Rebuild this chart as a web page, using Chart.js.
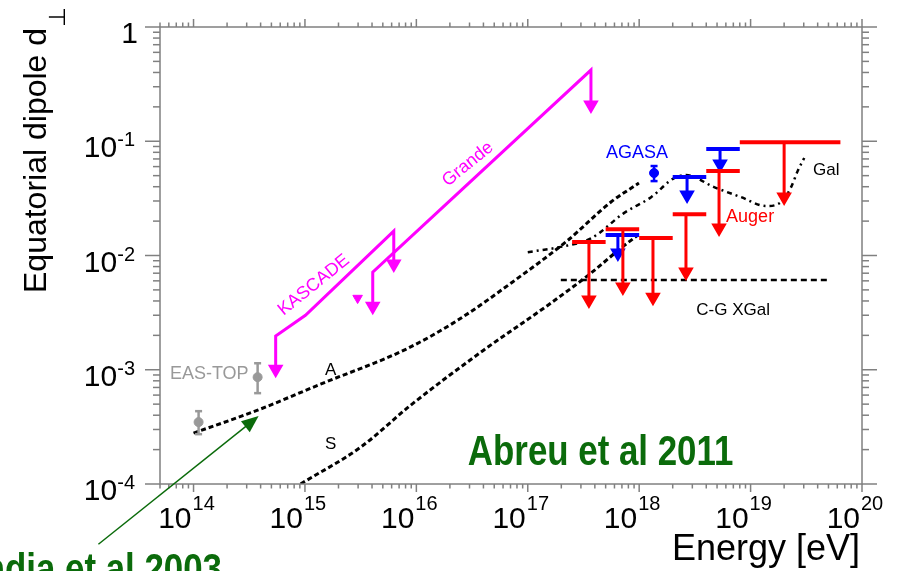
<!DOCTYPE html>
<html>
<head>
<meta charset="utf-8">
<script src="https://cdn.jsdelivr.net/npm/chart.js@4.4.1/dist/chart.umd.min.js"></script>
<style>
  html, body { margin: 0; padding: 0; background: #fff; }
  canvas { display: block; }
</style>
</head>
<body>
<canvas id="dipoleChart" width="902" height="571"></canvas>
<script>
// axis ranges and tick labels (powers of ten)
const xMin = 5e13, xMax = 1e20;
const yMin = 1e-4, yMax = 1;
const xTickExponents = [14, 15, 16, 17, 18, 19, 20];
const yTickExponents = [0, -1, -2, -3, -4];

// model curves: energy [eV] and equatorial dipole amplitude
const curveAEnergy = [1.0e14, 3.76e14, 1.38e15, 8.04e15, 2.36e16, 8.15e16, 2.29e17, 5.58e17, 9.95e17];
const curveADipole = [2.79e-4, 4.43e-4, 7.48e-4, 1.51e-3, 2.72e-3, 6.34e-3, 1.36e-2, 2.94e-2, 4.31e-2];

const curveSEnergy = [9.14e14, 3.16e15, 8.91e15, 4.04e16, 1.61e17, 3.69e17, 6.85e17, 9.75e17];
const curveSDipole = [1.0e-4, 2.10e-4, 4.90e-4, 1.49e-3, 3.83e-3, 7.01e-3, 1.16e-2, 1.51e-2];

const galEnergy = [1.0e17, 1.98e17, 3.69e17, 7.29e17, 1.28e18, 2.06e18, 2.63e18, 4.70e18, 8.22e18, 1.38e19, 1.88e19, 2.31e19, 2.67e19, 3.03e19];
const galDipole = [1.07e-2, 1.19e-2, 1.41e-2, 2.35e-2, 3.24e-2, 4.76e-2, 5.06e-2, 3.97e-2, 3.24e-2, 2.71e-2, 2.94e-2, 3.97e-2, 5.60e-2, 7.13e-2];

const xgalEnergy = [1.98e17, 5.18e19];
const xgalDipole = [6.1e-3, 6.1e-3];

// Auger upper limits: bin edges, arrow position, limit, arrow head
const augerEmin = [2.5e17, 5e17, 1e18, 2e18, 4e18, 8e18];
const augerEmax = [5e17, 1e18, 2e18, 4e18, 8e18, 6.4e19];
const augerEarrow = [3.54e17, 7.14e17, 1.33e18, 2.63e18, 5.21e18, 2.0e19];
const augerLimit = [0.0131, 0.0170, 0.0142, 0.0230, 0.0548, 0.098];
const augerHead = [4.07e-3, 5.29e-3, 4.32e-3, 7.16e-3, 1.74e-2, 3.25e-2];

// AGASA upper limits and measured point
const agasaEmin = [5e17, 2e18, 4e18];
const agasaEmax = [1e18, 4e18, 8e18];
const agasaEarrow = [6.44e17, 2.69e18, 5.32e18];
const agasaLimit = [0.0151, 0.0486, 0.0855];
const agasaHead = [1.05e-2, 3.38e-2, 6.31e-2];
const agasaPointE = [1.36e18];
const agasaPointD = [0.0527];
const agasaPointLo = [0.0448];
const agasaPointHi = [0.0607];

// EAS-TOP measured points
const eastopE = [1.11e14, 3.76e14];
const eastopD = [3.48e-4, 8.61e-4];
const eastopLo = [2.73e-4, 6.24e-4];
const eastopHi = [4.34e-4, 1.14e-3];

// KASCADE and KASCADE-Grande upper limit lines
const kascadeE = [5.46e14, 5.46e14, 1.01e15, 6.27e15, 6.27e15];
const kascadeD = [1.01e-3, 1.97e-3, 3.0e-3, 1.637e-2, 8.41e-3];
const grandeE = [4.06e15, 4.06e15, 3.69e17, 3.69e17];
const grandeD = [3.6e-3, 7.16e-3, 0.420, 0.2075];
const kascadeMarkE = [2.97e15];
const kascadeMarkD = [4.24e-3];

// Candia et al 2003 pointer
const candiaArrowE = [1.40e13, 3.84e14];
const candiaArrowD = [2.97e-5, 3.93e-4];

const FONT = "'Liberation Sans', Arial, sans-serif";
const MAGENTA = '#ff00ff', RED = '#ff0000', BLUE = '#0000ff', GREY = '#999999', GREEN = '#0b6b0b';

const notes = [
    { text: 'KASCADE', x: 1.2e15, y: 5.5e-3, color: MAGENTA, size: 18, angle: -39, align: 'center' },
    { text: 'Grande', x: 2.9e16, y: 0.063, color: MAGENTA, size: 18, angle: -39, align: 'center' },
    { text: 'AGASA', x: 9.55e17, y: 0.0788, color: BLUE, size: 18, align: 'center' },
    { text: 'Auger', x: 9.9e18, y: 0.0217, color: RED, size: 18, align: 'center' },
    { text: 'Gal', x: 3.64e19, y: 0.056, color: '#000', size: 17, align: 'left' },
    { text: 'C-G XGal', x: 6.97e18, y: 3.33e-3, color: '#000', size: 17, align: 'center' },
    { text: 'A', x: 1.7e15, y: 9.93e-4, color: '#000', size: 17, align: 'center' },
    { text: 'S', x: 1.7e15, y: 2.23e-4, color: '#000', size: 17, align: 'center' },
    { text: 'EAS-TOP', x: 3.12e14, y: 9.15e-4, color: GREY, size: 18, align: 'right' }
];

const pts = (xs, ys) => xs.map((v, i) => ({ x: v, y: ys[i] }));

const datasets = [];

function upperLimit(x0, x1, xa, top, head, color) {
    datasets.push({
        data: [{ x: x0, y: top }, { x: x1, y: top }],
        showLine: true, borderColor: color, borderWidth: 4, pointRadius: 0
    });
    datasets.push({
        data: [{ x: xa, y: top }, { x: xa, y: head }],
        showLine: true, borderColor: color, borderWidth: 3,
        pointRadius: [0, 6], pointStyle: 'triangle', pointRotation: 180,
        pointBackgroundColor: color, pointBorderColor: color
    });
}

function measured(xs, ys, lo, hi, color) {
    xs.forEach((v, i) => {
        datasets.push({
            data: [{ x: v, y: lo[i] }, { x: v, y: hi[i] }],
            showLine: true, borderColor: color, borderWidth: 2.5,
            pointStyle: 'line', pointRadius: 3.5, pointBorderWidth: 2.5, pointBorderColor: color
        });
    });
    datasets.push({
        data: pts(xs, ys),
        showLine: false, pointStyle: 'circle', pointRadius: 4.5,
        pointBackgroundColor: color, pointBorderColor: color
    });
}

augerEmin.forEach((v, i) => upperLimit(v, augerEmax[i], augerEarrow[i], augerLimit[i], augerHead[i], RED));
agasaEmin.forEach((v, i) => upperLimit(v, agasaEmax[i], agasaEarrow[i], agasaLimit[i], agasaHead[i], BLUE));
measured(agasaPointE, agasaPointD, agasaPointLo, agasaPointHi, BLUE);
measured(eastopE, eastopD, eastopLo, eastopHi, GREY);

datasets.push({
    data: pts(kascadeE, kascadeD),
    showLine: true, borderColor: MAGENTA, borderWidth: 3,
    pointRadius: [6, 0, 0, 0, 6], pointStyle: 'triangle', pointRotation: 180,
    pointBackgroundColor: MAGENTA, pointBorderColor: MAGENTA
});
datasets.push({
    data: pts(grandeE, grandeD),
    showLine: true, borderColor: MAGENTA, borderWidth: 3,
    pointRadius: [6, 0, 0, 6], pointStyle: 'triangle', pointRotation: 180,
    pointBackgroundColor: MAGENTA, pointBorderColor: MAGENTA
});
datasets.push({
    data: pts(kascadeMarkE, kascadeMarkD),
    showLine: false, pointRadius: 5.5, pointStyle: 'triangle', pointRotation: 180,
    pointBackgroundColor: MAGENTA, pointBorderColor: MAGENTA
});

function curve(xs, ys, dash, width) {
    datasets.push({
        data: pts(xs, ys),
        showLine: true, borderColor: '#000', borderWidth: width, borderDash: dash,
        pointRadius: 0, cubicInterpolationMode: 'monotone'
    });
}

curve(curveAEnergy, curveADipole, [5, 3], 3);
curve(curveSEnergy, curveSDipole, [5, 3], 3);
curve(galEnergy, galDipole, [5, 4, 2, 4], 2.5);
curve(xgalEnergy, xgalDipole, [6, 4], 2.5);

function drawSup(ctx, base, sup, xRight, yBase, ySup) {
    ctx.font = '20px ' + FONT;
    const sw = ctx.measureText(sup).width;
    ctx.textAlign = 'right';
    ctx.fillText(sup, xRight, ySup);
    ctx.font = '30px ' + FONT;
    ctx.fillText(base, xRight - sw, yBase);
}

const framePlugin = {
    id: 'frame',
    afterDatasetsDraw(chart) {
        const { ctx, chartArea: a, scales: { x, y } } = chart;
        ctx.save();

        // frame
        ctx.strokeStyle = '#808080';
        ctx.lineWidth = 1.5;
        ctx.strokeRect(a.left, a.top, a.right - a.left, a.bottom - a.top);

        const seg = (x0, y0, x1, y1) => {
            ctx.beginPath();
            ctx.moveTo(x0, y0);
            ctx.lineTo(x1, y1);
            ctx.stroke();
        };

        // x ticks, bottom and top
        for (let e = 13; e <= 20; e++) {
            for (let m = 1; m <= 9; m++) {
                const v = m * Math.pow(10, e);
                if (v < xMin * 0.999 || v > xMax * 1.001) continue;
                const px = x.getPixelForValue(v);
                const len = m === 1 ? 8 : 4.5;
                seg(px, a.bottom, px, a.bottom + len);
                seg(px, a.top, px, a.top - len);
            }
        }
        // y ticks, left and right
        for (let e = -4; e <= 0; e++) {
            for (let m = 1; m <= 9; m++) {
                const v = m * Math.pow(10, e);
                if (v < yMin * 0.999 || v > yMax * 1.001) continue;
                const py = y.getPixelForValue(v);
                const len = m === 1 ? 15 : 7;
                seg(a.left, py, a.left - len, py);
                seg(a.right, py, a.right + len, py);
            }
        }

        // tick labels
        ctx.fillStyle = '#000';
        ctx.textBaseline = 'alphabetic';
        xTickExponents.forEach(e => {
            const px = x.getPixelForValue(Math.pow(10, e));
            ctx.font = '30px ' + FONT;
            ctx.textAlign = 'right';
            ctx.fillText('10', px - 2, a.bottom + 44);
            ctx.font = '20px ' + FONT;
            ctx.textAlign = 'left';
            ctx.fillText(String(e), px - 1, a.bottom + 26);
        });
        yTickExponents.forEach(e => {
            const py = y.getPixelForValue(Math.pow(10, e));
            if (e === 0) {
                ctx.font = '30px ' + FONT;
                ctx.textAlign = 'right';
                ctx.fillText('1', a.left - 22, py + 16);
            } else {
                drawSup(ctx, '10', '-' + Math.abs(e), a.left - 25, py + 16, py + 5);
            }
        });

        // axis titles
        ctx.font = '36px ' + FONT;
        ctx.textAlign = 'right';
        ctx.fillText('Energy [eV]', a.right - 2, a.bottom + 76);

        ctx.save();
        ctx.translate(46, a.bottom - 191);
        ctx.rotate(-Math.PI / 2);
        ctx.font = '32px ' + FONT;
        ctx.textAlign = 'left';
        const title = 'Equatorial dipole d';
        ctx.fillText(title, 0, 0);
        const tw = ctx.measureText(title).width;
        ctx.font = "23px 'DejaVu Sans', sans-serif";
        ctx.fillText('\u22A5', tw + 1, 19);
        ctx.restore();

        // in-plot notes
        notes.forEach(n => {
            ctx.save();
            ctx.translate(x.getPixelForValue(n.x), y.getPixelForValue(n.y));
            if (n.angle) ctx.rotate(n.angle * Math.PI / 180);
            ctx.font = n.size + 'px ' + FONT;
            ctx.fillStyle = n.color;
            ctx.textAlign = n.align;
            ctx.textBaseline = 'middle';
            ctx.fillText(n.text, 0, 0);
            ctx.restore();
        });

        // green references
        ctx.fillStyle = GREEN;
        ctx.strokeStyle = GREEN;
        ctx.save();
        ctx.translate(x.getPixelForValue(2.9e16), y.getPixelForValue(1.46e-4));
        ctx.scale(0.83, 1);
        ctx.font = 'bold 42px ' + FONT;
        ctx.textAlign = 'left';
        ctx.textBaseline = 'alphabetic';
        ctx.fillText('Abreu et al 2011', 0, 0);
        ctx.restore();

        const x0 = x.getPixelForValue(candiaArrowE[0]), y0 = y.getPixelForValue(candiaArrowD[0]);
        const x1 = x.getPixelForValue(candiaArrowE[1]), y1 = y.getPixelForValue(candiaArrowD[1]);
        const ang = Math.atan2(y1 - y0, x1 - x0);
        ctx.lineWidth = 1.5;
        seg(x0, y0, x1 - 14 * Math.cos(ang), y1 - 14 * Math.sin(ang));
        ctx.beginPath();
        ctx.moveTo(x1, y1);
        ctx.lineTo(x1 - 17 * Math.cos(ang) + 7 * Math.sin(ang), y1 - 17 * Math.sin(ang) - 7 * Math.cos(ang));
        ctx.lineTo(x1 - 17 * Math.cos(ang) - 7 * Math.sin(ang), y1 - 17 * Math.sin(ang) + 7 * Math.cos(ang));
        ctx.closePath();
        ctx.fill();

        ctx.save();
        ctx.translate(a.left + 62, a.bottom + 99);
        ctx.scale(0.83, 1);
        ctx.font = 'bold 42px ' + FONT;
        ctx.textAlign = 'right';
        ctx.fillText('Candia et al 2003', 0, 0);
        ctx.restore();

        ctx.restore();
    }
};

const hiddenAxis = {
    grid: { display: false, drawTicks: false },
    border: { display: false },
    ticks: { display: false }
};

new Chart(document.getElementById('dipoleChart'), {
    type: 'scatter',
    data: { datasets: datasets },
    options: {
        responsive: false,
        animation: false,
        events: [],
        layout: { padding: { left: 160, right: 40, top: 27, bottom: 87 } },
        plugins: { legend: { display: false }, tooltip: { enabled: false } },
        scales: {
            x: Object.assign({ type: 'logarithmic', min: xMin, max: xMax }, hiddenAxis),
            y: Object.assign({ type: 'logarithmic', min: yMin, max: yMax }, hiddenAxis)
        }
    },
    plugins: [framePlugin]
});
</script>
</body>
</html>
